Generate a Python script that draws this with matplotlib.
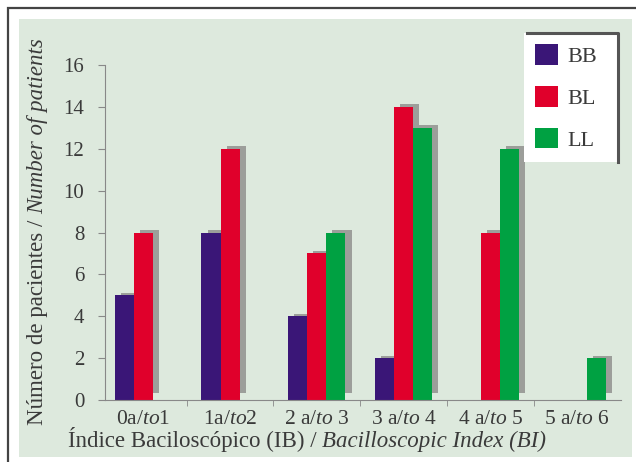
import matplotlib.pyplot as plt
import matplotlib.patches as mpatches
import numpy as np

# data
groups = ['0a/$\\mathit{to}$1', '1a/$\\mathit{to}$2', '2 a/$\\mathit{to}$ 3',
          '3 a/$\\mathit{to}$ 4', '4 a/$\\mathit{to}$ 5', '5 a/$\\mathit{to}$ 6']
series = ['BB', 'BL', 'LL']
bb = [5, 8, 4, 2, 0, 0]
bl = [8, 12, 7, 14, 8, 0]
ll = [0, 0, 8, 13, 12, 2]
colors = ['#3a1677', '#e0002b', '#00a142']

plt.rcParams['font.family'] = ['Liberation Serif', 'DejaVu Serif']
plt.rcParams['mathtext.fontset'] = 'custom'
plt.rcParams['mathtext.rm'] = 'Liberation Serif'
plt.rcParams['mathtext.it'] = 'Liberation Serif:italic'
txt = '#3a3a3a'


def main():
    fig = plt.figure(figsize=(6.36, 4.62), dpi=100)
    W, H = 636, 462

    # outer frame and green panel (pixel coords)
    fig.patches.append(mpatches.Rectangle((8 / W, -0.1), 1.2, (H - 8) / H + 0.1,
                       transform=fig.transFigure, facecolor='white',
                       edgecolor='#444444', linewidth=1.6, zorder=-3))
    fig.patches.append(mpatches.Rectangle((19 / W, (H - 457) / H), (632 - 19) / W, (457 - 19) / H,
                       transform=fig.transFigure, facecolor='#dde9dd',
                       edgecolor='none', zorder=-2))

    ax = fig.add_axes([105 / W, (H - 400) / H, (621 - 105) / W, (400 - 65) / H])
    ax.patch.set_visible(False)

    x = np.arange(len(groups))
    w = 0.22
    dx = 0.07
    data = [bb, bl, ll]
    for i, vals in enumerate(data):
        pos = x + (i - 1) * w
        vals = np.array(vals)
        show = vals > 0
        # gray drop shadow
        ax.bar(pos[show] + dx, vals[show] - 0.2, w, bottom=0.32,
               color='#9c9e9a', zorder=1)
    for i, (name, vals, c) in enumerate(zip(series, data, colors)):
        pos = x + (i - 1) * w
        ax.bar(pos, vals, w, color=c, label=name, zorder=2)

    ax.set_xlim(-0.442, 5.506)
    ax.set_ylim(0, 16)
    ax.set_yticks(range(0, 17, 2))
    ax.set_xticks(x)
    ax.set_xticklabels(groups)
    ax.set_xticks(x[:-1] + 0.5, minor=True)
    ax.tick_params(axis='x', which='major', length=0, pad=7, labelsize=15.5, labelcolor=txt)
    ax.tick_params(axis='x', which='minor', length=4, color='#888888')
    ax.tick_params(axis='y', length=5, color='#888888', labelsize=15, labelcolor=txt, pad=10)
    for s in ['top', 'right']:
        ax.spines[s].set_visible(False)
    ax.spines['left'].set_color('#888888')
    ax.spines['bottom'].set_color('#888888')
    ax.spines['left'].set_bounds(0, 16)

    # axis titles: roman part + italic part
    fs = 16.5
    xl = fig.text(68 / W, (H - 447) / H, 'Índice Baciloscópico (IB) / ',
                  ha='left', va='baseline', fontsize=fs, color=txt)
    ax.annotate('Bacilloscopic Index (BI)', xy=(1, 0), xycoords=xl,
                ha='left', va='bottom', fontsize=fs, color=txt, style='italic')
    yl = fig.text(48 / W, (H - 425) / H, 'Número de pacientes / ', rotation=90,
                  ha='right', va='bottom', fontsize=fs, color=txt)
    ax.annotate('Number of patients', xy=(1, 1), xycoords=yl, rotation=90,
                ha='right', va='bottom', fontsize=fs, color=txt, style='italic')

    leg = ax.legend(loc='upper left', mode='expand',
                    bbox_to_anchor=(524 / W, (H - 155) / H, 94 / W, 122 / H),
                    bbox_transform=fig.transFigure, borderaxespad=0, fontsize=16,
                    handlelength=1.05, handleheight=1.05, labelspacing=0.85,
                    handletextpad=0.4, borderpad=0.5, fancybox=False,
                    framealpha=1, edgecolor='none', facecolor='white')
    for t in leg.get_texts():
        t.set_color(txt)

    # dark edge on top and right of legend box
    fig.canvas.draw()
    bb_leg = leg.get_frame().get_window_extent().transformed(fig.transFigure.inverted())
    fig.lines.append(plt.Line2D([bb_leg.x0 + 0.005, bb_leg.x1, bb_leg.x1],
                                [bb_leg.y1, bb_leg.y1, bb_leg.y0],
                                transform=fig.transFigure, color='#555555',
                                linewidth=2.2, zorder=10))

    fig.savefig('out.png', dpi=100)


if __name__ == "__main__":
    main()
